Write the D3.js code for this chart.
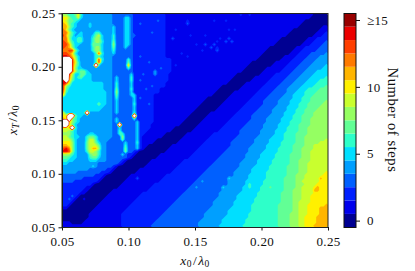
<!DOCTYPE html>
<html>
<head>
  <meta charset="utf-8">
  <script src="https://d3js.org/d3.v7.min.js"></script>
  <style>
    body { margin: 0; background: white; }
    text { font-family: "Liberation Serif", serif; fill: #111; }
    .tick text { font-size: 13px; letter-spacing: 0.3px; }
    .axis path, .axis line { stroke: #111; }
    .title { font-size: 13.5px; letter-spacing: 0.5px; }
    .bar-title { font-size: 14.5px; letter-spacing: 0.6px; }
  </style>
</head>
<body>
  <script>

    // Tick labels
    var x0Ticks = [0.05, 0.10, 0.15, 0.20, 0.25];
    var xTTicks = [0.05, 0.10, 0.15, 0.20, 0.25];
    var stepTicks = [0, 5, 10, 15];
    var stepLabels = ["0", "5", "10", "\u226515"];

    // One colour per step count, 0 to 15, then white for the failed runs
    var stepColors = ["#000092", "#0000ec", "#0020ff", "#0060ff", "#009fff", "#00dfff", "#2effc9", "#62ff95",
                      "#95ff62", "#c9ff2e", "#fff000", "#ffb500", "#ff7a00", "#ff3e00", "#ec0000", "#980000", "#ffffff"];

    // Steps per grid row, top row first. Each token is value@column where the run ends, w = no result
    var stepRows = [
      "8@2 6@4 7@5 10@6 6@7 4@17 3@24 2@35 1@85 0@90",
      "10@2 8@3 6@5 9@6 5@7 4@17 3@21 5@23 3@24 2@35 1@84 0@90",
      "10@1 9@2 7@4 6@5 5@6 4@17 3@21 5@23 3@24 2@35 1@82 0@90",
      "11@1 10@2 7@3 6@4 5@5 4@9 5@10 4@17 3@21 5@23 3@24 2@35 1@81 0@90",
      "11@2 8@3 6@4 5@5 4@9 5@10 4@17 5@18 3@21 5@23 3@24 2@35 1@80 0@88 1@90",
      "12@1 10@2 7@3 5@4 4@17 5@18 3@21 5@23 3@24 2@35 1@78 0@87 1@90",
      "12@2 9@3 6@4 5@5 4@6 5@7 4@11 6@13 4@17 5@18 3@21 5@23 3@24 2@35 1@77 0@86 1@89 2@90",
      "13@1 11@2 8@3 6@4 4@5 5@7 4@10 5@11 7@12 9@13 5@14 4@17 6@18 3@21 5@23 3@24 2@35 1@76 0@85 1@88 2@90",
      "12@2 8@3 5@5 6@7 4@10 6@11 8@13 5@14 4@17 6@18 3@21 5@23 3@24 2@35 1@74 0@83 1@86 2@90",
      "13@1 12@2 9@3 6@4 5@5 6@7 4@10 6@11 8@13 6@14 4@17 7@18 3@21 5@23 3@24 2@35 1@73 0@82 1@85 2@89 3@90",
      "13@2 11@3 7@4 5@6 4@10 7@13 5@14 4@17 8@18 3@21 5@23 3@24 2@35 1@72 0@81 1@84 2@88 3@90",
      "13@1 12@2 11@3 8@4 5@5 4@10 6@11 8@13 5@14 4@17 7@18 3@21 5@22 3@24 2@35 1@70 0@79 1@82 2@87 3@90",
      "12@2 13@4 8@5 5@6 4@10 6@11 8@13 5@14 4@17 6@18 3@24 2@35 1@69 0@78 1@81 2@86 3@90",
      "13@2 12@3 10@4 6@5 4@11 6@12 13@13 6@14 4@17 5@18 3@24 2@35 1@68 0@77 1@80 2@84 3@89 4@90",
      "14@2 13@3 11@4 8@5 5@6 4@11 6@13 5@14 4@17 3@24 2@26 3@27 2@35 1@67 0@75 1@79 2@83 3@87 4@90",
      "w@3 13@4 9@5 5@6 4@11 6@12 13@13 6@14 4@17 3@22 6@23 3@24 2@37 1@66 0@74 1@78 2@82 3@86 4@90",
      "w@3 13@4 10@5 6@6 4@11 6@12 13@13 5@14 4@17 3@22 7@23 3@24 2@37 1@64 0@72 1@77 2@81 3@85 4@90",
      "w@3 13@4 9@5 6@6 4@11 w@12 5@13 4@17 3@22 11@23 3@24 2@37 1@63 0@71 1@76 2@80 3@84 4@89 5@90",
      "w@3 13@4 8@5 5@7 4@17 3@22 6@23 3@24 2@37 1@62 0@69 1@75 2@79 3@83 4@88 5@90",
      "w@3 13@4 9@5 6@6 7@8 5@9 4@17 3@24 2@37 1@61 0@68 1@74 2@78 3@82 4@86 5@90",
      "w@2 13@3 9@4 5@6 7@8 5@10 4@17 3@23 5@24 2@36 1@59 0@67 1@72 2@77 3@81 4@85 5@90",
      "w@2 12@3 8@4 5@5 6@6 7@7 5@10 4@17 3@18 5@19 3@23 6@24 2@36 1@58 0@65 1@71 2@76 3@80 4@84 5@89 6@90",
      "14@1 w@2 11@3 7@4 5@10 4@17 3@18 5@19 3@23 6@24 2@36 1@57 0@64 1@70 2@75 3@79 4@83 5@87 6@90",
      "14@1 13@2 9@3 5@14 4@17 3@18 6@19 3@23 5@24 2@35 1@56 0@62 1@69 2@74 3@78 4@82 5@86 6@90",
      "13@1 8@2 6@3 5@14 4@17 3@18 6@19 3@23 5@24 2@35 1@54 0@61 1@68 2@73 3@77 4@81 5@85 6@89 7@90",
      "13@1 7@2 5@14 4@17 3@18 7@19 3@23 6@24 2@33 1@53 0@60 1@67 2@72 3@76 4@80 5@83 6@87 7@90",
      "12@1 6@2 5@15 4@17 3@18 8@19 3@23 5@24 2@33 1@52 0@58 1@66 2@71 3@76 4@79 5@82 6@86 7@90",
      "10@1 5@15 4@17 3@18 7@19 3@23 5@25 2@31 1@51 0@57 1@65 2@70 3@75 4@78 5@82 6@85 7@90",
      "5@15 4@17 3@18 6@19 3@24 5@25 2@31 1@49 0@56 1@64 2@69 3@74 4@78 5@81 6@84 7@90",
      "5@15 4@17 3@18 5@19 3@24 5@25 2@31 1@48 0@55 1@63 2@68 3@73 4@77 5@81 6@84 7@89 8@90",
      "5@12 7@13 5@15 4@17 3@18 5@19 3@24 6@25 2@31 1@47 0@54 1@62 2@68 3@73 4@77 5@80 6@83 7@88 8@90",
      "5@14 4@17 3@18 5@19 3@24 5@25 2@31 1@46 0@53 1@61 2@67 3@72 4@76 5@80 6@83 7@87 8@90",
      "5@13 4@17 3@18 5@19 3@24 5@25 2@31 1@45 0@52 1@60 2@66 3@71 4@76 5@79 6@82 7@86 8@90",
      "9@1 5@8 w@9 4@17 3@18 5@19 3@24 6@25 2@31 1@44 0@50 1@59 2@65 3@71 4@75 5@79 6@82 7@85 8@90",
      "10@2 w@4 7@5 5@7 4@17 3@24 w@25 2@31 1@43 0@49 1@58 2@64 3@70 4@75 5@78 6@81 7@85 8@90",
      "11@1 10@2 w@3 8@4 6@5 5@6 4@17 3@18 5@19 3@24 6@25 2@31 1@42 0@48 1@57 2@64 3@69 4@74 5@78 6@81 7@84 8@90",
      "w@2 11@3 8@4 6@5 5@6 4@17 3@18 5@19 3@25 5@26 2@31 1@41 0@47 1@56 2@63 3@69 4@74 5@77 6@81 7@84 8@90",
      "w@2 10@3 7@4 5@5 4@17 3@19 w@20 3@25 5@26 2@30 1@40 0@46 1@55 2@62 3@68 4@73 5@77 6@80 7@84 8@90",
      "10@1 9@2 11@3 w@4 6@5 4@17 3@19 5@20 3@25 5@26 2@30 1@38 0@45 1@54 2@61 3@68 4@73 5@76 6@80 7@83 8@90",
      "9@2 8@3 6@4 5@5 4@17 3@19 6@20 3@25 5@26 2@29 1@37 0@44 1@53 2@60 3@67 4@72 5@76 6@80 7@83 8@90",
      "8@3 6@4 5@5 4@9 5@11 4@17 3@19 6@21 3@25 5@26 2@28 1@35 0@42 1@51 2@60 3@67 4@72 5@75 6@79 7@83 8@90",
      "9@2 7@3 6@4 5@6 4@8 6@9 7@11 6@12 4@17 3@20 8@21 3@25 5@26 2@27 1@34 0@41 1@50 2@59 3@66 4@71 5@75 6@79 7@82 8@90",
      "9@3 7@4 5@5 4@8 6@9 9@11 6@12 4@16 3@20 7@21 3@25 5@26 2@27 1@32 0@40 1@49 2@58 3@65 4@70 5@75 6@79 7@82 8@89 9@90",
      "10@3 8@4 5@5 4@8 7@9 9@11 7@12 5@13 4@15 3@21 5@22 3@25 6@26 2@27 1@31 0@39 1@48 2@57 3@65 4@70 5@74 6@79 7@82 8@87 9@90",
      "11@2 10@3 8@4 5@5 4@8 7@9 9@12 7@13 4@15 3@21 6@22 3@25 5@26 2@27 1@29 0@37 1@47 2@57 3@64 4@69 5@74 6@78 7@82 8@85 9@90",
      "13@1 14@2 12@3 8@4 5@5 4@8 7@9 9@10 11@12 8@13 4@15 3@21 7@22 3@25 5@26 2@27 1@28 0@36 1@46 2@56 3@63 4@69 5@73 6@78 7@81 8@85 9@90",
      "14@2 13@3 8@4 5@5 4@8 6@9 9@11 8@12 6@13 4@15 3@21 7@22 3@24 2@25 1@26 0@35 1@45 2@55 3@63 4@68 5@73 6@78 7@81 8@84 9@90",
      "8@3 6@4 5@5 4@9 7@10 8@12 6@13 4@15 3@20 5@21 3@22 2@24 1@25 0@33 1@44 2@54 3@62 4@67 5@72 6@77 7@81 8@84 9@90",
      "7@2 6@3 5@5 4@9 6@10 7@12 5@13 4@15 3@22 2@23 1@24 0@32 1@43 2@53 3@62 4@67 5@72 6@77 7@81 8@84 9@90",
      "6@2 5@4 4@9 5@12 4@15 3@20 2@21 1@22 0@30 1@41 2@52 3@61 4@66 5@71 6@77 7@80 8@84 9@90",
      "5@2 4@12 3@19 2@20 1@21 0@29 1@40 2@51 3@60 4@66 5@71 6@77 7@80 8@83 9@90",
      "4@10 5@11 4@12 3@17 2@18 1@19 0@28 1@39 2@50 3@60 4@65 5@70 6@76 7@80 8@83 9@90",
      "4@9 3@15 2@17 1@18 0@26 1@38 2@49 3@59 4@64 5@70 6@76 7@80 8@83 9@90",
      "4@5 3@13 2@16 1@17 0@25 1@37 2@48 3@58 4@64 5@69 6@76 7@80 8@83 9@89 10@90",
      "3@11 2@14 1@15 0@23 1@35 2@47 3@58 4@63 5@69 6@76 7@79 8@82 9@88 10@90",
      "3@7 2@13 1@14 0@22 1@25 3@26 1@34 2@46 3@57 4@63 5@69 6@75 7@79 8@82 9@87 10@90",
      "3@4 2@12 1@13 0@21 1@33 2@45 3@56 4@62 5@68 6@75 7@79 8@82 9@87 10@90",
      "2@10 1@11 0@20 1@31 2@44 3@56 4@62 5@68 6@75 7@79 8@82 9@86 10@90",
      "2@8 1@10 0@19 1@30 2@43 3@55 4@61 5@67 6@75 7@79 8@81 9@85 10@90",
      "2@7 1@9 0@17 1@29 2@42 3@54 4@61 5@67 6@75 7@78 8@81 9@85 10@90",
      "2@6 1@8 0@16 1@27 2@41 3@53 4@60 5@66 6@74 7@78 8@81 9@85 10@90",
      "2@3 3@4 2@5 1@6 0@15 1@26 2@40 3@53 4@59 5@66 6@74 7@78 8@81 9@84 10@90",
      "2@2 3@3 2@4 1@5 0@7 1@8 0@14 1@25 2@39 3@52 4@59 5@65 6@74 7@78 8@81 9@84 10@90",
      "2@3 1@4 0@13 1@24 2@38 3@51 4@58 5@65 6@74 7@78 8@80 9@84 10@90",
      "2@2 1@3 0@12 1@23 2@37 3@51 4@58 5@64 6@73 7@78 8@80 9@83 10@89 11@90",
      "1@2 0@11 1@22 2@36 3@50 4@57 5@64 6@73 7@78 8@80 9@83 10@87 11@90",
      "0@10 1@21 2@35 3@49 4@56 5@64 6@73 7@78 8@80 9@83 10@87 11@90",
      "0@9 1@20 2@34 3@48 4@56 5@63 6@73 7@77 8@80 9@83 10@87 11@90",
      "0@9 1@20 2@33 3@48 4@55 5@63 6@73 7@77 8@80 9@82 10@86 11@90",
      "0@8 1@20 2@32 3@47 4@54 5@62 6@73 7@77 8@80 9@82 10@86 11@90",
      "1@3 0@7 1@20 2@31 3@46 4@54 5@62 6@73 7@77 8@80 9@82 10@86 11@90",
      "1@20 2@30 3@46 4@53 5@61 6@73 7@77 8@80 9@82 10@85 11@90"
    ];

    // Single grid cells that stick out of the bands: row, column, steps
    var stepSpots = [
      [2,42,2],[3,42,3],[2,51,2],[2,55,2],[8,37,3],[7,43,2],[5,38,2],[7,48,2],[8,56,3],[9,57,3],[8,53,2],
      [10,51,3],[11,50,3],[12,52,3],[10,48,3],[12,47,2],[10,45,2],[5,56,2],[5,58,2],[14,42,2],[13,40,2],
      [17,38,2],[0,60,2],[0,63,2],[2,32,3],[3,26,3],[6,30,3],[7,24,3],[9,55,3],[9,52,2],[11,52,2],
      [19,31,4],[20,31,4],[20,27,3],[22,26,3],[25,28,3],[28,26,3],[30,29,3],[16,29,3],[18,33,3],[24,30,3],
      [56,47,4],[58,45,4],[55,56,5],[58,54,5],[57,63,6],[58,63,6],[58,70,7],[59,78,8],[55,75,7],[56,81,9],
      [55,87,11],[58,86,11],[59,85,11],[59,86,11]
    ];

    var noResult = 32;
    var rowCount = stepRows.length, colCount = 90;

    // Expand the rows into the flat array d3.contours wants
    var cells = [];
    stepRows.forEach(function(row) {
      var col = 0;
      row.split(" ").forEach(function(tok) {
        var parts = tok.split("@");
        var v = parts[0] === "w" ? noResult : +parts[0];
        for (; col < +parts[1]; col++) cells.push(v);
      });
    });
    stepSpots.forEach(function(s) { cells[s[0] * colCount + s[1]] = s[2]; });

    var svg = d3.select("body").append("svg")
        .attr("width", 415)
        .attr("height", 271);

    var x = d3.scaleLinear().domain([0.05, 0.25]).range([62, 328]);
    var y = d3.scaleLinear().domain([0.05, 0.25]).range([227.3, 13.3]);
    var c = d3.scaleLinear().domain([-0.5, 15.5]).range([227.3, 13.3]);

    // Grid index to data value
    var colToX = d3.scaleLinear().domain([0, colCount]).range(x.domain());
    var rowToY = d3.scaleLinear().domain([0, rowCount]).range([0.25, 0.05]);

    var thresholds = [-1].concat(d3.range(0.5, 16, 1));
    var contours = d3.contours()
        .size([colCount, rowCount])
        .thresholds(thresholds)(cells);

    var path = d3.geoPath(d3.geoTransform({
      point: function(col, row) {
        this.stream.point(x(colToX(col)), y(rowToY(row)));
      }
    }));

    svg.append("g").selectAll("path")
        .data(contours)
      .enter().append("path")
        .attr("d", path)
        .attr("fill", function(d, i) { return stepColors[i]; });

    // Axes
    svg.append("g")
        .attr("class", "axis")
        .attr("transform", "translate(0,227)")
        .call(d3.axisBottom(x).tickValues(x0Ticks).tickFormat(d3.format(".2f")).tickSize(3.5).tickPadding(6).tickSizeOuter(0));

    svg.append("g")
        .attr("class", "axis")
        .attr("transform", "translate(62,0)")
        .call(d3.axisLeft(y).tickValues(xTTicks).tickFormat(d3.format(".2f")).tickSize(3.5).tickPadding(3).tickSizeOuter(0));

    // Frame
    svg.append("rect")
        .attr("x", 62).attr("y", 13.5)
        .attr("width", 266).attr("height", 214)
        .attr("fill", "none")
        .attr("stroke", "#222");

    // Colour bar
    svg.append("g").selectAll("rect")
        .data(d3.range(16))
      .enter().append("rect")
        .attr("x", 344)
        .attr("width", 12)
        .attr("y", function(d) { return c(d + 0.5); })
        .attr("height", function(d) { return c(d - 0.5) - c(d + 0.5); })
        .attr("fill", function(d) { return stepColors[d]; });

    svg.append("rect")
        .attr("x", 344).attr("y", 13.5)
        .attr("width", 12).attr("height", 214)
        .attr("fill", "none")
        .attr("stroke", "#111");

    svg.append("g")
        .attr("class", "axis")
        .attr("transform", "translate(356,0)")
        .call(d3.axisRight(c).tickValues(stepTicks)
          .tickFormat(function(d, i) { return stepLabels[i]; })
          .tickSize(4).tickPadding(7).tickSizeOuter(0))
        .select(".domain").remove();

    // Axis titles, with the subscripts as tspans
    function mathTitle(sel, sub) {
      sel.append("tspan").attr("font-style", "italic").text("x");
      sel.append("tspan").attr("font-size", "9.5px").attr("dy", 2).attr("font-style", sub === "T" ? "italic" : "normal").text(sub);
      sel.append("tspan").attr("dy", -2).attr("dx", 1).text("/");
      sel.append("tspan").attr("font-style", "italic").attr("dx", 1).text("\u03bb");
      sel.append("tspan").attr("font-size", "9.5px").attr("dy", 2).text("0");
    }

    svg.append("text")
        .attr("class", "title")
        .attr("x", 195).attr("y", 265)
        .attr("text-anchor", "middle")
        .call(mathTitle, "0");

    svg.append("text")
        .attr("class", "title")
        .attr("transform", "translate(17,120) rotate(-90)")
        .attr("text-anchor", "middle")
        .call(mathTitle, "T");

    svg.append("text")
        .attr("class", "bar-title")
        .attr("transform", "translate(388,120) rotate(90)")
        .attr("text-anchor", "middle")
        .text("Number of steps");

  </script>
</body>
</html>
